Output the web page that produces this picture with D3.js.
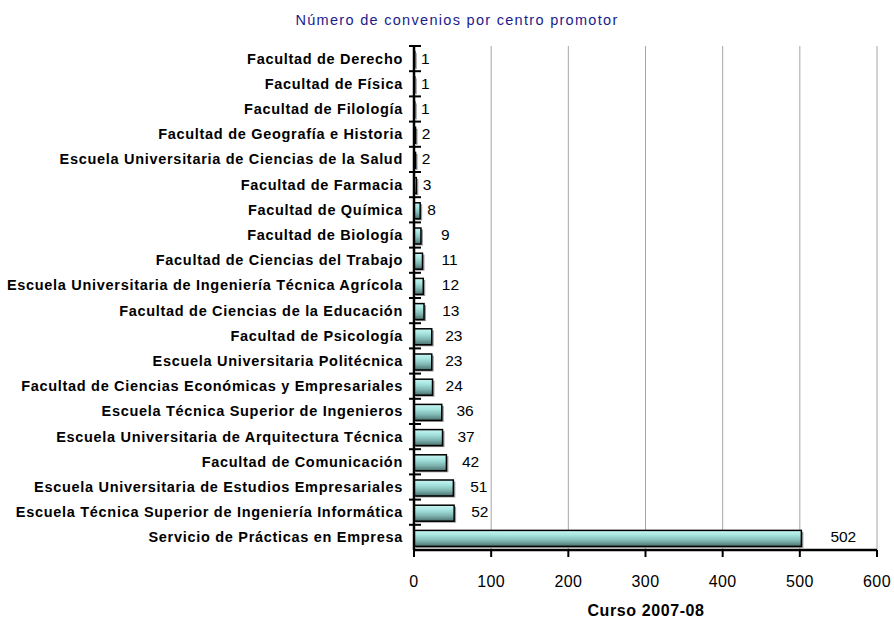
<!DOCTYPE html>
<html>
<head>
<meta charset="utf-8">
<script src="https://cdn.jsdelivr.net/npm/d3@7"></script>
<style>
  body { margin: 0; background: #fff; font-family: 'Liberation Sans', Arial, sans-serif; }
</style>
</head>
<body>
<script>
// DATA
var centros = [
  'Facultad de Derecho',
  'Facultad de Física',
  'Facultad de Filología',
  'Facultad de Geografía e Historia',
  'Escuela Universitaria de Ciencias de la Salud',
  'Facultad de Farmacia',
  'Facultad de Química',
  'Facultad de Biología',
  'Facultad de Ciencias del Trabajo',
  'Escuela Universitaria de Ingeniería Técnica Agrícola',
  'Facultad de Ciencias de la Educación',
  'Facultad de Psicología',
  'Escuela Universitaria Politécnica',
  'Facultad de Ciencias Económicas y Empresariales',
  'Escuela Técnica Superior de Ingenieros',
  'Escuela Universitaria de Arquitectura Técnica',
  'Facultad de Comunicación',
  'Escuela Universitaria de Estudios Empresariales',
  'Escuela Técnica Superior de Ingeniería Informática',
  'Servicio de Prácticas en Empresa'
];
var convenios = [1, 1, 1, 2, 2, 3, 8, 9, 11, 12, 13, 23, 23, 24, 36, 37, 42, 51, 52, 502];
var xTicks = [0, 100, 200, 300, 400, 500, 600];
var titulo = 'Número de convenios por centro promotor';
var ejeX = 'Curso 2007-08';

var data = centros.map((c, i) => ({ c: c, v: convenios[i] }));

//WINDOW
var W = 894, H = 619;
var m = { top: 46, left: 414, right: 17, bottom: 69 };

var svg = d3.select('body').append('svg')
    .attr('width', W).attr('height', H);

var defs = svg.append('defs');
var grad = defs.append('linearGradient').attr('id', 'barGrad')
    .attr('x1', 0).attr('y1', 0).attr('x2', 0).attr('y2', 1);
[[0, '#c8f6f4'], [0.3, '#a6e4e0'], [0.65, '#80b6b2'], [1, '#4a706d']]
  .forEach(s => grad.append('stop').attr('offset', s[0]).attr('stop-color', s[1]));

var x = d3.scaleLinear().domain([0, 600]).range([m.left, W - m.right]);
var y = d3.scaleBand().domain(centros).range([m.top, H - m.bottom]);

// label offset past the bar end (Excel places them unevenly)
var off = d3.scaleLinear().domain([0, 8, 9, 24, 52, 502]).range([6, 7, 20, 13, 17, 29]).clamp(true);

//TITLE
svg.append('text')
    .attr('x', 457).attr('y', 25)
    .attr('text-anchor', 'middle')
    .style('font-size', '14.5px')
    .style('letter-spacing', '1.3px')
    .style('fill', '#1c1c8c')
    .text(titulo);

//GRID
svg.append('g').selectAll('line')
    .data(xTicks.filter(d => d > 0)).enter()
    .append('line')
    .attr('x1', d => x(d)).attr('x2', d => x(d))
    .attr('y1', m.top).attr('y2', H - m.bottom)
    .style('stroke', '#a6a6a6').style('stroke-width', 1);

//BARS
var bh = 16;
var bars = svg.append('g').selectAll('g')
    .data(data).enter().append('g');

bars.append('rect')
    .attr('x', x(0) + 2)
    .attr('y', d => y(d.c) + y.bandwidth() / 2 - bh / 2 + 2.5)
    .attr('width', d => x(d.v) - x(0))
    .attr('height', bh)
    .style('fill', '#9a9a9a');

bars.append('rect')
    .attr('x', x(0))
    .attr('y', d => y(d.c) + y.bandwidth() / 2 - bh / 2 + 1)
    .attr('width', d => x(d.v) - x(0))
    .attr('height', bh)
    .style('fill', 'url(#barGrad)')
    .style('stroke', '#000').style('stroke-width', 1.5);

bars.append('text')
    .attr('x', d => x(d.v) + off(d.v))
    .attr('y', d => y(d.c) + y.bandwidth() / 2 + 5)
    .style('font-size', '15.5px')
    .style('fill', '#000')
    .text(d => d.v);

//AXES
var ya = svg.append('g');
ya.append('line')
    .attr('x1', x(0)).attr('x2', x(0))
    .attr('y1', m.top - 1).attr('y2', H - m.bottom)
    .style('stroke', '#000').style('stroke-width', 2.5);
ya.selectAll('.tk')
    .data(centros).enter()
    .append('line')
    .attr('x1', x(0) - 5).attr('x2', x(0) + 7)
    .attr('y1', d => y(d)).attr('y2', d => y(d))
    .style('stroke', '#000').style('stroke-width', 2);
ya.selectAll('.lbl')
    .data(centros).enter()
    .append('text')
    .attr('x', x(0) - 11)
    .attr('y', d => y(d) + y.bandwidth() / 2 + 5)
    .attr('text-anchor', 'end')
    .style('font-size', '14.5px')
    .style('letter-spacing', '0.7px')
    .style('font-weight', 'bold')
    .text(d => d);

var xa = svg.append('g');
xa.append('line')
    .attr('x1', x(0) - 1).attr('x2', x(600))
    .attr('y1', H - m.bottom).attr('y2', H - m.bottom)
    .style('stroke', '#000').style('stroke-width', 2.5);
xa.selectAll('.tk')
    .data(xTicks).enter()
    .append('line')
    .attr('x1', d => x(d)).attr('x2', d => x(d))
    .attr('y1', H - m.bottom).attr('y2', H - m.bottom + 7)
    .style('stroke', '#000').style('stroke-width', 2);
xa.selectAll('.lbl')
    .data(xTicks).enter()
    .append('text')
    .attr('x', d => x(d))
    .attr('y', H - m.bottom + 37)
    .attr('text-anchor', 'middle')
    .style('font-size', '16px')
    .style('letter-spacing', '0.4px')
    .text(d => d);

svg.append('text')
    .attr('x', 646).attr('y', 616)
    .attr('text-anchor', 'middle')
    .style('font-size', '16px')
    .style('letter-spacing', '0.6px')
    .style('font-weight', 'bold')
    .text(ejeX);
</script>
</body>
</html>
